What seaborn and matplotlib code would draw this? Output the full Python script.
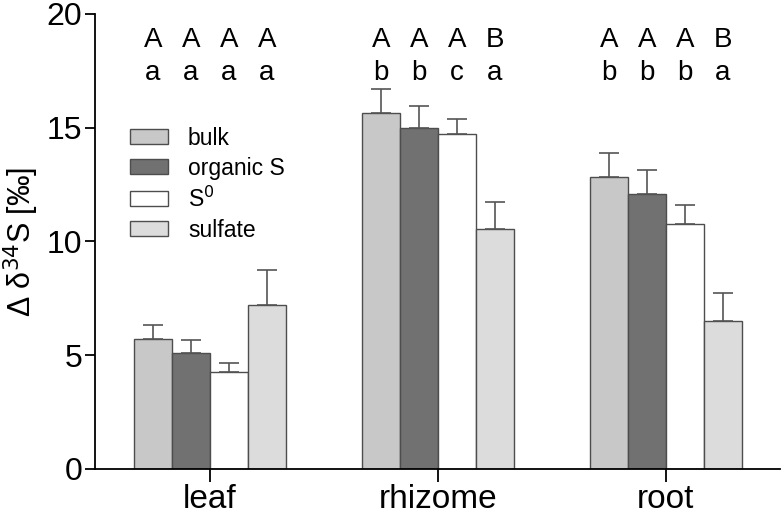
import numpy as np
import pandas as pd
import seaborn as sns
import matplotlib.pyplot as plt
from matplotlib.patches import Patch

# data
tissues = ["leaf", "rhizome", "root"]
fractions = ["bulk", "organic S", "S0", "sulfate"]
legend_labels = ["bulk", "organic S", "S$^0$", "sulfate"]
bulk = [5.71, 15.66, 12.84]
organic = [5.10, 14.97, 12.10]
s0 = [4.25, 14.74, 10.75]
sulfate = [7.22, 10.56, 6.52]
bulk_err = [0.62, 1.03, 1.05]
organic_err = [0.57, 1.00, 1.03]
s0_err = [0.41, 0.64, 0.87]
sulfate_err = [1.53, 1.19, 1.23]
upper_letters = [["A", "A", "A", "A"], ["A", "A", "A", "B"], ["A", "A", "A", "B"]]
lower_letters = [["a", "a", "a", "a"], ["b", "b", "c", "a"], ["b", "b", "b", "a"]]
colors = ["#c8c8c8", "#717171", "#ffffff", "#dcdcdc"]

rows = []
for i, t in enumerate(tissues):
    for f, vals, errs in zip(fractions, [bulk, organic, s0, sulfate],
                             [bulk_err, organic_err, s0_err, sulfate_err]):
        rows.append({"tissue": t, "fraction": f, "value": vals[i], "err": errs[i]})
df = pd.DataFrame(rows)

sns.set_style("ticks")
plt.rcParams["font.family"] = ["Liberation Sans", "DejaVu Sans"]
plt.rcParams["text.color"] = "black"
plt.rcParams["xtick.color"] = "black"
plt.rcParams["ytick.color"] = "black"
plt.rcParams["axes.labelcolor"] = "black"

fig = plt.figure(figsize=(7.81, 5.17), dpi=100)
ax = fig.add_axes([0.1216, 0.093, 0.877, 0.880])

sns.barplot(data=df, x="tissue", y="value", hue="fraction", hue_order=fractions,
            palette=colors, errorbar=None, width=0.667, dodge=True,
            edgecolor="#4d4d4d", linewidth=1.0, legend=False, ax=ax)

# error bars (upper only) and letters over each bar
for j, f in enumerate(fractions):
    cont = ax.containers[j]
    sub = df[df["fraction"] == f]
    for k, (bar, (_, r)) in enumerate(zip(cont, sub.iterrows())):
        xc = bar.get_x() + bar.get_width() / 2
        ax.errorbar(xc, r["value"], yerr=[[0], [r["err"]]], fmt="none",
                    ecolor="#555555", elinewidth=1.2, capsize=7, capthick=1.2)
        ax.text(xc, 18.85, upper_letters[k][j], ha="center", va="center", fontsize=20)
        ax.text(xc, 17.4, lower_letters[k][j], ha="center", va="center", fontsize=20)

ax.set_ylim(0, 20)
ax.set_xlim(-0.504, 2.5)
ax.set_yticks([0, 5, 10, 15, 20])
ax.tick_params(axis="y", labelsize=23, length=7, width=1.3, pad=2)
ax.tick_params(axis="x", labelsize=24, length=9, width=1.3, pad=2)
ax.set_xlabel("")
ax.set_ylabel("Δ δ$^{34}$S [‰]", fontsize=22, labelpad=4)
sns.despine(ax=ax)
for s in ["left", "bottom"]:
    ax.spines[s].set_linewidth(1.3)
    ax.spines[s].set_color("black")

handles = [Patch(facecolor=c, edgecolor="#4d4d4d", linewidth=1.0) for c in colors]
ax.legend(handles, legend_labels, loc="upper left", bbox_to_anchor=(0.051, 0.752),
          frameon=False, fontsize=16.5, handlelength=1.66, handleheight=0.65,
          labelspacing=0.3, handletextpad=0.87, borderpad=0, borderaxespad=0)

fig.savefig("out.png", dpi=100)
